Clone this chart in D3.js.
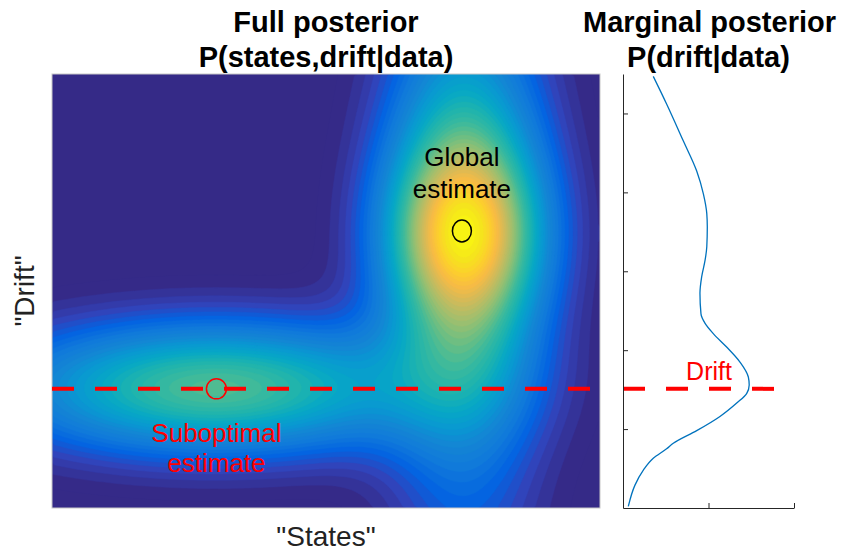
<!DOCTYPE html>
<html>
<head>
<meta charset="utf-8">
<style>
  body { margin: 0; background: #fff; }
  text { font-family: "Liberation Sans", Arial, Helvetica, sans-serif; }
</style>
</head>
<body>
<script src="https://d3js.org/d3.v7.min.js"></script>
<svg id="chart" width="844" height="554"></svg>
<script>
  // posterior components (states in [0,1], drift in axis units)
  const compState      = [0.752, 0.298];
  const compDrift      = [3.49, 1.52];
  const compWidthState = [0.097, 0.255];
  const compWidthDrift = [1.46, 0.56];
  const compShapeState = ['gauss', 'gauss'];
  const compShapeDrift = ['cauchy', 'gauss'];
  const compWeight     = [1.0, 0.55];

  const trueDrift = 1.51;
  const globalEst = [0.748, 3.51];
  const subEst = [0.30, 1.51];

  // marginal posterior P(drift|data)
  const margDensity = [0.177, 0.255, 0.353, 0.431, 0.470, 0.490, 0.493, 0.490, 0.480, 0.460, 0.450, 0.456, 0.480, 0.528,
                       0.606, 0.684, 0.733, 0.738, 0.723, 0.665, 0.567, 0.431, 0.294, 0.255, 0.177, 0.119, 0.070, 0.031];
  const margDrift   = [5.47, 5.12, 4.65, 4.27, 3.98, 3.73, 3.56, 3.31, 3.14, 2.93, 2.72, 2.46, 2.34, 2.21,
                       2.04, 1.85, 1.66, 1.56, 1.45, 1.33, 1.16, 0.98, 0.82, 0.75, 0.63, 0.48, 0.29, 0.02];
  const driftTicks = [1, 2, 3, 4, 5];
  const densityTicks = [0, 0.5, 1];

  // parula
  const parulaColors = ['#352a87', '#3243ba', '#0363e1', '#1079da', '#1485d4', '#0998d1', '#06a7c6', '#1db3af',
                        '#38b99e', '#65be86', '#92bf73', '#b7bd64', '#d9ba56', '#f8bb44', '#fcce2e', '#f5e41d', '#f9fb0e'];
  const parula = d3.scaleLinear()
                   .domain(parulaColors.map((c, i) => 0.02 + 0.98 * i / (parulaColors.length - 1)))
                   .range(parulaColors)
                   .interpolate(d3.interpolateRgb)
                   .clamp(true);

  const svg = d3.select('#chart');

  const heat = {left: 52, right: 600, top: 74, bottom: 508};
  const marg = {left: 623, right: 794};

  const xState = d3.scaleLinear().domain([0, 1]).range([heat.left, heat.right]);
  const yDrift = d3.scaleLinear().domain([0, 5.5]).range([heat.bottom, heat.top]);
  const xDens = d3.scaleLinear().domain([0, 1]).range([marg.left, marg.right]);

  const profile = (z, shape) => shape === 'gauss' ? Math.exp(-0.5 * z * z) : 1 / (1 + z * z);

  // grid of posterior values
  const nx = 137, ny = 109;
  const values = new Array(nx * ny);
  for (let j = 0; j < ny; j++) {
    for (let i = 0; i < nx; i++) {
      const s = (i + 0.5) / nx;
      const d = 5.5 * (1 - (j + 0.5) / ny);
      let v = 0;
      compState.forEach((c, k) => {
        v += compWeight[k]
           * profile((s - c) / compWidthState[k], compShapeState[k])
           * profile((d - compDrift[k]) / compWidthDrift[k], compShapeDrift[k]);
      });
      values[j * nx + i] = v;
    }
  }
  const vmax = d3.max(values);
  for (let k = 0; k < values.length; k++) values[k] /= vmax;

  const levels = d3.range(0, 1, 1 / 48);
  const contours = d3.contours().size([nx, ny]).thresholds(levels)(values);
  const proj = d3.geoTransform({
    point: function(x, y) { this.stream.point(xState(x / nx), yDrift(5.5 * (1 - y / ny))); }
  });
  const path = d3.geoPath(proj);

  svg.append('defs').append('clipPath').attr('id', 'heatClip')
     .append('rect')
     .attr('x', heat.left).attr('y', heat.top)
     .attr('width', heat.right - heat.left).attr('height', heat.bottom - heat.top);

  const gHeat = svg.append('g').attr('clip-path', 'url(#heatClip)');
  gHeat.append('rect')
       .attr('x', heat.left).attr('y', heat.top)
       .attr('width', heat.right - heat.left).attr('height', heat.bottom - heat.top)
       .attr('fill', parula(0));
  gHeat.selectAll('path.lvl')
       .data(contours)
       .enter().append('path')
       .attr('class', 'lvl')
       .attr('d', path)
       .attr('fill', d => parula(d.value))
       .attr('stroke', d => parula(d.value))
       .attr('stroke-width', 0.5);

  svg.append('rect')
     .attr('x', heat.left).attr('y', heat.top)
     .attr('width', heat.right - heat.left).attr('height', heat.bottom - heat.top)
     .attr('fill', 'none').attr('stroke', '#c8c8c8').attr('stroke-width', 1);

  // true drift line
  svg.append('line')
     .attr('x1', xState(0)).attr('x2', xState(1))
     .attr('y1', yDrift(trueDrift)).attr('y2', yDrift(trueDrift))
     .attr('stroke', '#ff0000').attr('stroke-width', 4).attr('stroke-dasharray', '22,21');

  // estimates
  svg.append('ellipse')
     .attr('cx', xState(globalEst[0])).attr('cy', yDrift(globalEst[1]))
     .attr('rx', 9.5).attr('ry', 11)
     .attr('fill', 'none').attr('stroke', '#000').attr('stroke-width', 1.5);
  svg.append('circle')
     .attr('cx', xState(subEst[0])).attr('cy', yDrift(subEst[1]))
     .attr('r', 10)
     .attr('fill', 'none').attr('stroke', '#ff0000').attr('stroke-width', 1.5);

  const ann = svg.append('g').attr('font-size', '26px').attr('text-anchor', 'middle');
  ann.append('text').attr('x', xState(globalEst[0])).attr('y', 166).attr('fill', '#000').text('Global');
  ann.append('text').attr('x', xState(globalEst[0])).attr('y', 198).attr('fill', '#000').text('estimate');
  ann.append('text').attr('x', xState(subEst[0])).attr('y', 442).attr('fill', '#ff0000').text('Suboptimal');
  ann.append('text').attr('x', xState(subEst[0])).attr('y', 472).attr('fill', '#ff0000').text('estimate');

  // axis labels
  svg.append('text').attr('x', (heat.left + heat.right) / 2).attr('y', 546)
     .attr('text-anchor', 'middle').attr('font-size', '28px').attr('fill', '#222').text('"States"');
  svg.append('text').attr('transform', `translate(34, ${(heat.top + heat.bottom) / 2}) rotate(-90)`)
     .attr('text-anchor', 'middle').attr('font-size', '28px').attr('fill', '#222').text('"Drift"');

  // titles
  const titles = svg.append('g').attr('font-size', '29px').attr('font-weight', 'bold').attr('text-anchor', 'middle');
  const hc = (heat.left + heat.right) / 2, mc = (marg.left + marg.right) / 2;
  titles.append('text').attr('x', hc).attr('y', 32).text('Full posterior');
  titles.append('text').attr('x', hc).attr('y', 67).text('P(states,drift|data)');
  titles.append('text').attr('x', mc + 1).attr('y', 32).text('Marginal posterior');
  titles.append('text').attr('x', mc).attr('y', 67).text('P(drift|data)');

  // marginal panel
  const gm = svg.append('g');
  gm.append('line')
    .attr('x1', xDens(0)).attr('x2', xDens(1))
    .attr('y1', yDrift(trueDrift)).attr('y2', yDrift(trueDrift))
    .attr('stroke', '#ff0000').attr('stroke-width', 4).attr('stroke-dasharray', '22,21');

  const line = d3.line()
                 .x((d, i) => xDens(margDensity[i]))
                 .y(d => yDrift(d))
                 .curve(d3.curveMonotoneY);
  gm.append('path')
    .attr('d', line(margDrift))
    .attr('fill', 'none').attr('stroke', '#0072bd').attr('stroke-width', 1.3);

  gm.append('g').attr('transform', `translate(${xDens(0)},0)`)
    .call(d3.axisRight(yDrift).tickValues(driftTicks).tickSize(5).tickSizeOuter(0).tickFormat(''));
  gm.append('g').attr('transform', `translate(0,${yDrift(0)})`)
    .call(d3.axisTop(xDens).tickValues(densityTicks).tickSize(5).tickSizeOuter(0).tickFormat(''));
  gm.selectAll('.domain, .tick line').attr('stroke', '#262626').attr('stroke-width', 1);

  gm.append('text').attr('x', 709).attr('y', 380)
    .attr('text-anchor', 'middle').attr('font-size', '25px').attr('fill', '#ff0000').text('Drift');
</script>
</body>
</html>
